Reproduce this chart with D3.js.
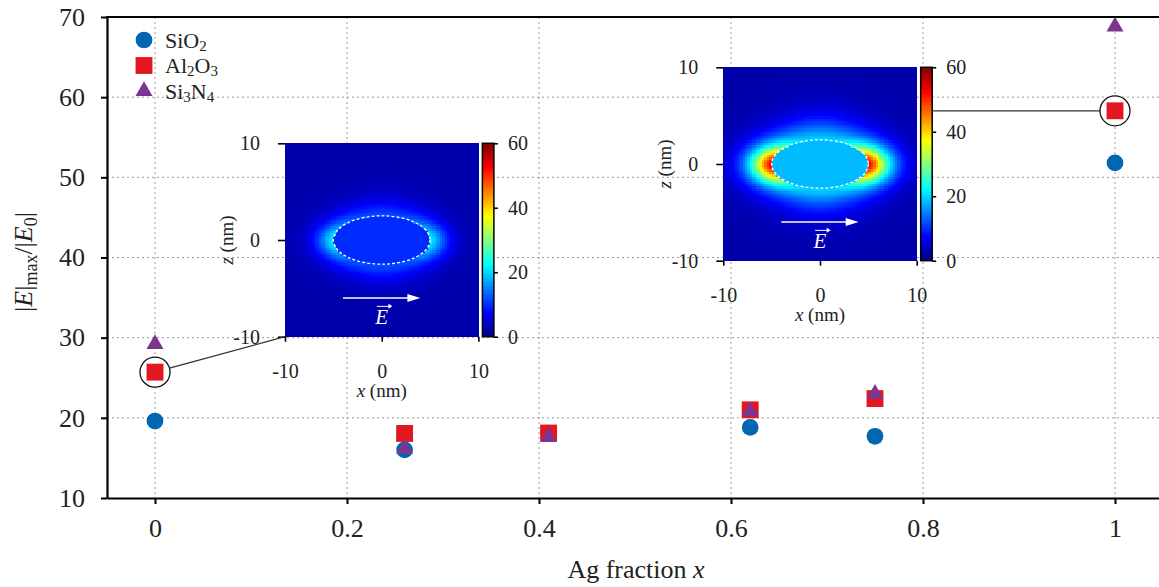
<!DOCTYPE html>
<html>
<head>
<meta charset="utf-8">
<script src="https://cdn.jsdelivr.net/npm/d3@7"></script>
<style>
  body { margin: 0; background: #fff; }
  svg { display: block; font-family: "Liberation Serif", "DejaVu Serif", serif; }
  .grid line { stroke: #9a9a9a; stroke-width: 1; stroke-dasharray: 2,3; }
  .axis path, .axis line { stroke: #000; }
  .axis text { fill: #222; }
</style>
</head>
<body>
<script>
// data
var fractions = [0, 0.26, 0.41, 0.62, 0.75, 1];
var sio2  = [19.6, 16.0, 18.1, 18.8, 17.7, 51.8];
var al2o3 = [25.7, 18.05, 18.1, 21.0, 22.4, 58.3];
var si3n4 = [29.2, 16.1, 17.6, 20.8, 23.0, 68.8];
var xTicks = [0, 0.2, 0.4, 0.6, 0.8, 1];
var yTicks = [10, 20, 30, 40, 50, 60, 70];

// the two field maps (inset at x = 0 and x = 1, Al2O3)
var insetFraction = [0, 1];
var insetValue = [25.7, 58.3];
var fieldBg = [2.5, 2.5];
var fieldInside = [10, 18.5];
var fieldTip = [22, 53];
var fieldSide = [12, 20];
var fieldDecay = [1.8, 2.3];
var nmTicks = [-10, 0, 10];
var cbTicks = [0, 20, 40, 60];

var W = 1159, H = 587;
var svg = d3.select('body').append('svg').attr('width', W).attr('height', H);

var x = d3.scaleLinear().domain([-0.05, 1.05]).range([107, 1163]);
var y = d3.scaleLinear().domain([10, 70]).range([498, 17]);
var plain = function(d) { return String(d); };

// grid
var grid = svg.append('g').attr('class', 'grid');
grid.selectAll('.gx').data(xTicks).enter().append('line')
    .attr('x1', function(d) { return x(d); }).attr('x2', function(d) { return x(d); })
    .attr('y1', y(70)).attr('y2', y(10));
grid.selectAll('.gy').data(yTicks.slice(1, -1)).enter().append('line')
    .attr('x1', x(-0.05)).attr('x2', W)
    .attr('y1', function(d) { return y(d); }).attr('y2', function(d) { return y(d); });

// axes
svg.append('g').attr('class', 'axis')
    .attr('transform', 'translate(0,' + y(10) + ')')
    .call(d3.axisBottom(x).tickValues(xTicks).tickSize(6).tickPadding(15).tickSizeOuter(0)
      .tickFormat(plain))
    .call(function(g) {
      g.select('.domain').attr('stroke-width', 2.2);
      g.selectAll('line').attr('stroke-width', 2);
      g.selectAll('text').attr('font-size', 26).attr('font-family', 'Liberation Serif');
    });
svg.append('g').attr('class', 'axis')
    .attr('transform', 'translate(' + x(-0.05) + ',0)')
    .call(d3.axisLeft(y).tickValues(yTicks).tickSize(6).tickPadding(16).tickSizeOuter(0)
      .tickFormat(plain))
    .call(function(g) {
      g.select('.domain').attr('stroke-width', 2.2);
      g.selectAll('line').attr('stroke-width', 2);
      g.selectAll('text').attr('font-size', 26).attr('font-family', 'Liberation Serif');
    });
svg.append('line')
    .attr('x1', x(-0.05) - 1).attr('x2', W)
    .attr('y1', y(70)).attr('y2', y(70))
    .attr('stroke', '#000').attr('stroke-width', 2.2);

// axis labels
svg.append('text')
    .attr('x', 636).attr('y', 578)
    .attr('text-anchor', 'middle').attr('font-size', 26).attr('fill', '#222')
    .html('Ag fraction <tspan font-style="italic">x</tspan>');

var yl = svg.append('text')
    .attr('transform', 'translate(32,262) rotate(-90)')
    .attr('text-anchor', 'middle').attr('font-size', 26).attr('fill', '#222');
yl.append('tspan').text('|');
yl.append('tspan').attr('font-style', 'italic').text('E');
yl.append('tspan').text('|');
yl.append('tspan').attr('font-size', 18).attr('dy', 5).text('max');
yl.append('tspan').attr('dy', -5).text('/|');
yl.append('tspan').attr('font-style', 'italic').text('E');
yl.append('tspan').attr('font-size', 18).attr('dy', 5).text('0');
yl.append('tspan').attr('dy', -5).text('|');

// series
var series = [
  { name: ['SiO', '2', ''], values: sio2, color: '#0066b2', shape: d3.symbolCircle, size: 220 },
  { name: ['Al', '2', 'O', '3'], values: al2o3, color: '#e2171f', shape: d3.symbolSquare, size: 285 },
  { name: ['Si', '3', 'N', '4'], values: si3n4, color: '#7d3592', shape: d3.symbolTriangle, size: 125 }
];

// insets (drawn before points so highlight circles and markers sit above connectors)
var jet = d3.scaleLinear()
    .domain([0, 7.5, 22.5, 37.5, 52.5, 60])
    .range(['#000080', '#0000ff', '#00ffff', '#ffff00', '#ff0000', '#800000'])
    .clamp(true);

var insetBox = [{ left: 285, top: 143.3 }, { left: 723.3, top: 67.3 }];
var S = 193.4, A = 5, C = 2.5, N = 80, step = 20 / N;

function field(k, px, pz) {
  var rho = Math.sqrt((px / A) * (px / A) + (pz / C) * (pz / C));
  if (rho <= 1) return fieldInside[k];
  var th = Math.atan2(pz / C, px / A);
  var d = Math.sqrt(px * px + pz * pz) * (1 - 1 / rho);
  var amp = fieldSide[k] + (fieldTip[k] - fieldSide[k]) * Math.pow(Math.abs(Math.cos(th)), 4);
  return fieldBg[k] + (amp - fieldBg[k]) * Math.exp(-Math.pow(d / fieldDecay[k], 1.5));
}

insetFraction.forEach(function(fr, k) {
  var box = insetBox[k];
  var sx = d3.scaleLinear().domain([-10, 10]).range([0, S]);
  var sz = d3.scaleLinear().domain([-10, 10]).range([S, 0]);
  var g = svg.append('g').attr('transform', 'translate(' + box.left + ',' + box.top + ')');

  var cells = [];
  d3.range(N).forEach(function(i) {
    d3.range(N).forEach(function(j) {
      var cx = -10 + (i + 0.5) * step, cz = -10 + (j + 0.5) * step;
      cells.push({ x: cx, z: cz, v: field(k, cx, cz) });
    });
  });
  g.append('g').attr('shape-rendering', 'crispEdges').selectAll('rect').data(cells).enter().append('rect')
      .attr('x', function(d) { return sx(d.x - step / 2); })
      .attr('y', function(d) { return sz(d.z + step / 2); })
      .attr('width', sx(step) - sx(0) + 0.6)
      .attr('height', sx(step) - sx(0) + 0.6)
      .attr('fill', function(d) { return jet(d.v); });

  // particle outline
  g.append('ellipse')
      .attr('cx', sx(0)).attr('cy', sz(0))
      .attr('rx', sx(A) - sx(0)).attr('ry', sx(C) - sx(0))
      .attr('fill', 'none').attr('stroke', '#fff').attr('stroke-width', 1.3)
      .attr('stroke-dasharray', '3,2');

  // polarisation arrow
  g.append('line')
      .attr('x1', sx(-4)).attr('x2', sx(2.7))
      .attr('y1', sz(-6)).attr('y2', sz(-6))
      .attr('stroke', '#fff').attr('stroke-width', 1.6);
  g.append('path')
      .attr('d', 'M' + sx(4) + ',' + sz(-6) + 'L' + (sx(4) - 13) + ',' + (sz(-6) - 4) +
                 'L' + (sx(4) - 13) + ',' + (sz(-6) + 4) + 'Z')
      .attr('fill', '#fff');
  g.append('text')
      .attr('x', sx(0)).attr('y', sz(-8) + 7)
      .attr('text-anchor', 'middle').attr('font-size', 21).attr('font-style', 'italic')
      .attr('fill', '#fff').text('E');
  g.append('line')
      .attr('x1', sx(-0.5)).attr('x2', sx(0.9))
      .attr('y1', sz(-8) - 11).attr('y2', sz(-8) - 11)
      .attr('stroke', '#fff').attr('stroke-width', 1);
  g.append('path')
      .attr('d', 'M' + (sx(0.9) + 2) + ',' + (sz(-8) - 11) + 'l-4,-2.5l0,5z')
      .attr('fill', '#fff');

  // inset axes
  g.append('g').attr('class', 'axis')
      .call(d3.axisLeft(sz).tickValues(nmTicks).tickSize(7).tickPadding(18).tickSizeOuter(0)
        .tickFormat(plain))
      .call(function(a) {
        a.select('.domain').remove();
        a.selectAll('line').attr('stroke-width', 1.6);
        a.selectAll('text').attr('font-size', 20).attr('font-family', 'Liberation Serif');
      });
  g.append('g').attr('class', 'axis')
      .attr('transform', 'translate(0,' + S + ')')
      .call(d3.axisBottom(sx).tickValues(nmTicks).tickSize(5).tickPadding(22).tickSizeOuter(0)
        .tickFormat(plain))
      .call(function(a) {
        a.select('.domain').remove();
        a.selectAll('line').attr('stroke-width', 1.6);
        a.selectAll('text').attr('font-size', 20).attr('font-family', 'Liberation Serif');
      });
  g.append('text')
      .attr('x', S / 2).attr('y', S + 60)
      .attr('text-anchor', 'middle').attr('font-size', 19).attr('fill', '#222')
      .html('<tspan font-style="italic">x</tspan> (nm)');
  g.append('text')
      .attr('transform', 'translate(-52,' + (S / 2) + ') rotate(-90)')
      .attr('text-anchor', 'middle').attr('font-size', 19).attr('fill', '#222')
      .html('<tspan font-style="italic">z</tspan> (nm)');

  // colour bar
  var cb = d3.scaleLinear().domain([0, 60]).range([S, 0]);
  var cbg = g.append('g').attr('transform', 'translate(' + (S + 4) + ',0)');
  cbg.append('g').attr('shape-rendering', 'crispEdges').selectAll('rect')
      .data(d3.range(0, 60, 0.5)).enter().append('rect')
      .attr('x', 0).attr('width', 11.5)
      .attr('y', function(d) { return cb(d + 0.5); })
      .attr('height', cb(0) - cb(0.5) + 0.5)
      .attr('fill', function(d) { return jet(d + 0.25); });
  cbg.append('rect')
      .attr('width', 11.5).attr('height', S)
      .attr('fill', 'none').attr('stroke', '#000').attr('stroke-width', 1.5);
  cbg.append('g').attr('class', 'axis')
      .attr('transform', 'translate(11.5,0)')
      .call(d3.axisRight(cb).tickValues(cbTicks).tickSize(4).tickPadding(10).tickSizeOuter(0))
      .call(function(a) {
        a.select('.domain').remove();
        a.selectAll('line').attr('stroke-width', 1.6);
        a.selectAll('text').attr('font-size', 20).attr('font-family', 'Liberation Serif');
      });

  // connector to the highlighted point
  var px = x(fr), py = y(insetValue[k]);
  var tx, ty;
  if (k === 0) { tx = box.left; ty = box.top + S; }
  else { tx = box.left + S + 4 + 11.5; ty = py; }
  var dx = tx - px, dy = ty - py, len = Math.sqrt(dx * dx + dy * dy);
  svg.append('line')
      .attr('x1', px + dx / len * 15).attr('y1', py + dy / len * 15)
      .attr('x2', tx).attr('y2', ty)
      .attr('stroke', '#333').attr('stroke-width', 1.3);
  svg.append('circle')
      .attr('cx', px).attr('cy', py).attr('r', 15)
      .attr('fill', '#fff').attr('stroke', '#111').attr('stroke-width', 1.3);
});

// points
series.forEach(function(s) {
  svg.append('g').selectAll('path').data(s.values).enter().append('path')
      .attr('transform', function(d, i) { return 'translate(' + x(fractions[i]) + ',' + y(d) + ')'; })
      .attr('d', d3.symbol().type(s.shape).size(s.size))
      .attr('fill', s.color);
});

// legend
series.forEach(function(s, i) {
  var cy = 40 + i * 25.5;
  svg.append('path')
      .attr('transform', 'translate(144,' + cy + ')')
      .attr('d', d3.symbol().type(s.shape).size(s.size))
      .attr('fill', s.color);
  var t = svg.append('text').attr('x', 165).attr('y', cy + 7.5)
      .attr('font-size', 22).attr('fill', '#222');
  t.append('tspan').text(s.name[0]);
  t.append('tspan').attr('font-size', 15).attr('dy', 3).text(s.name[1]);
  if (s.name[2]) {
    t.append('tspan').attr('dy', -3).text(s.name[2]);
    t.append('tspan').attr('font-size', 15).attr('dy', 3).text(s.name[3]);
  }
});
</script>
</body>
</html>
